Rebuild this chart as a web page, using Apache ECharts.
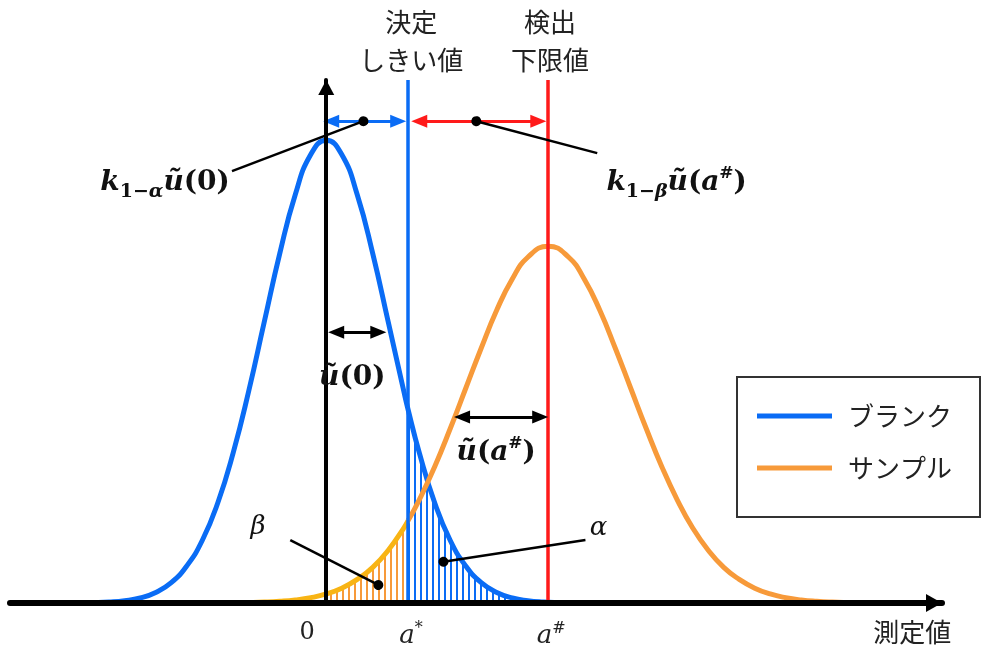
<!DOCTYPE html>
<html><head><meta charset="utf-8">
<script src="https://cdn.jsdelivr.net/npm/echarts@6/dist/echarts.min.js"></script>
<style>html,body{margin:0;padding:0;background:#fff}#c{width:981px;height:650px}</style>
</head><body><div id="c"></div>
<script>
// x: measured value (units of the blank's standard uncertainty), y: density relative to the blank peak
const blankX = [-4.5, -4, -3.75, -3.5, -3.25, -3, -2.75, -2.5, -2.25, -2, -1.75, -1.5, -1.25, -1, -0.75, -0.5, -0.25, 0,
                0.25, 0.5, 0.75, 1, 1.25, 1.32, 1.5, 1.75, 2, 2.25, 2.5, 2.75, 3, 3.25, 3.5, 3.75, 4, 4.5];
const blankY = [0.000, 0.0003, 0.0009, 0.0022, 0.0051, 0.011, 0.0228, 0.044, 0.080, 0.135, 0.216, 0.325, 0.458, 0.607, 0.755, 0.882, 0.969, 1.000,
                0.969, 0.882, 0.755, 0.607, 0.458, 0.418, 0.325, 0.216, 0.135, 0.080, 0.044, 0.0228, 0.011, 0.0051, 0.0022, 0.0009, 0.0003, 0.000];
const sampleX = [-1.5, -1.25, -1, -0.75, -0.5, -0.25, 0, 0.25, 0.5, 0.75, 1, 1.25, 1.32, 1.5, 1.75, 2, 2.25, 2.5, 2.75, 3, 3.25, 3.58,
                 3.91, 4.16, 4.41, 4.66, 4.91, 5.16, 5.41, 5.66, 5.91, 6.16, 6.41, 6.66, 6.91, 7.16, 7.41, 7.66, 7.91, 8.16, 8.41, 8.66];
const sampleY = [0.0005, 0.001, 0.0019, 0.0036, 0.0065, 0.0115, 0.0195, 0.032, 0.051, 0.077, 0.114, 0.162, 0.178, 0.223, 0.295, 0.377, 0.464, 0.551, 0.633, 0.700, 0.747, 0.771,
                 0.747, 0.700, 0.633, 0.551, 0.464, 0.377, 0.295, 0.223, 0.162, 0.114, 0.077, 0.051, 0.032, 0.0195, 0.0115, 0.0065, 0.0036, 0.0019, 0.001, 0.0005];
const decisionThreshold = 1.32;   // a*
const detectionLimit = 3.58;      // a#
const tickValues = [0, decisionThreshold, detectionLimit];
const tickLabels = ['{z|0}', '{i|a}{sup|*}', '{i|a}{sup|#}'];
const seriesNames = ['ブランク', 'サンプル'];

const BLUE = '#0A6CF5', ORANGE = '#F79A3A', GOLD = '#F8B414', RED = '#FF1A1A';
const chart = echarts.init(document.getElementById('c'), null, {renderer: 'canvas'});

function stripes(color, period, w) {
  const c = document.createElement('canvas');
  c.width = period; c.height = 8;
  const g = c.getContext('2d');
  g.fillStyle = color; g.fillRect(0, 0, w, 8);
  return c;
}
const EPS = 1e-9;
const pts = (xs, ys) => xs.map((x, i) => [x, ys[i]]);
const blank = pts(blankX, blankY);
const sample = pts(sampleX, sampleY);
const alphaArea = blank.filter(p => p[0] >= decisionThreshold - EPS);
const betaArea = sample.filter(p => p[0] >= 0 && p[0] <= decisionThreshold + EPS);
const sampleLow = sample.filter(p => p[0] <= decisionThreshold + EPS);
const sampleHigh = sample.filter(p => p[0] >= decisionThreshold - EPS);

const lineBase = {type: 'line', smooth: true, symbol: 'none', silent: true};
const solid = (color, width) => ({type: 'solid', color, width});
function arrow(x1, x2, y, color) {
  return [{coord: [x1, y], symbol: 'triangle', symbolSize: [13, 16], lineStyle: solid(color, 3)},
          {coord: [x2, y], symbol: 'triangle', symbolSize: [13, 16]}];
}
function leader(dot, end) {
  return [{coord: dot, symbol: 'circle', symbolSize: 10, lineStyle: solid('#000', 2.5)},
          {coord: end, symbol: 'none'}];
}

chart.setOption({
  animation: false,
  backgroundColor: '#fff',
  grid: {left: 10, right: 39, top: 80, bottom: 47},
  xAxis: {
    type: 'value', min: -5.1, max: 9.93, z: 10,
    axisLine: {onZero: true, symbol: ['none', 'triangle'], symbolSize: [18, 16], symbolOffset: [0, -8],
      lineStyle: {color: '#000', width: 6}},
    axisTick: {show: false}, splitLine: {show: false},
    axisLabel: {
      customValues: tickValues, margin: 18,
      formatter: v => tickLabels[tickValues.indexOf(v)] || '',
      rich: {
        z: {fontFamily: 'DejaVu Serif', fontSize: 24, color: '#222', padding: [0, 38, 0, 0]},
        i: {fontFamily: 'DejaVu Serif', fontStyle: 'italic', fontSize: 26, color: '#222', lineHeight: 30, padding: [0, 0, 0, 6]},
        sup: {fontFamily: 'DejaVu Serif', fontSize: 16, color: '#222', lineHeight: 30, verticalAlign: 'top'}
      }
    }
  },
  yAxis: {
    type: 'value', min: 0, max: 1.13, z: 10,
    axisLine: {show: true, onZero: true, symbol: ['none', 'triangle'], symbolSize: [16, 15], symbolOffset: [0, -7.5],
      lineStyle: {color: '#000', width: 4}},
    axisTick: {show: false}, axisLabel: {show: false}, splitLine: {show: false}
  },
  legend: {
    data: [{name: seriesNames[0], itemStyle: {color: BLUE}}, {name: seriesNames[1], itemStyle: {color: ORANGE}}],
    orient: 'vertical', left: 737, top: 377, icon: 'rect', itemWidth: 75, itemHeight: 5, itemGap: 26,
    padding: [26, 28, 36, 20], borderColor: '#333', borderWidth: 2, selectedMode: false,
    textStyle: {fontFamily: 'Noto Sans CJK JP', fontSize: 26, color: '#222', padding: [0, 0, 0, 11]}
  },
  series: [
    Object.assign({}, lineBase, {name: 'alpha', data: alphaArea, z: 1, lineStyle: {width: 0},
      areaStyle: {color: {image: stripes(BLUE, 6, 2), repeat: 'repeat'}, opacity: 1}}),
    Object.assign({}, lineBase, {name: 'beta', data: betaArea, z: 1, lineStyle: {width: 0},
      areaStyle: {color: {image: stripes(ORANGE, 6, 2), repeat: 'repeat'}, opacity: 1}}),
    Object.assign({}, lineBase, {name: seriesNames[0], data: blank, z: 3, lineStyle: {color: BLUE, width: 5}, itemStyle: {color: BLUE}}),
    Object.assign({}, lineBase, {name: seriesNames[1], data: sampleHigh, z: 3, lineStyle: {color: ORANGE, width: 5}, itemStyle: {color: ORANGE}}),
    Object.assign({}, lineBase, {name: 'sampleTail', data: sampleLow, z: 3, lineStyle: {color: GOLD, width: 5}, itemStyle: {color: GOLD}}),
    {type: 'line', name: 'anno', data: [], z: 5, silent: true,
      markLine: {
        silent: true, animation: false, label: {show: false}, symbol: 'none',
        data: [
          {xAxis: decisionThreshold, lineStyle: solid(BLUE, 3.5)},
          {xAxis: detectionLimit, lineStyle: solid(RED, 3.5)},
          arrow(0.08, 1.16, 1.041, BLUE),
          arrow(1.50, 3.42, 1.041, RED),
          arrow(0.16, 0.84, 0.585, '#000'),
          arrow(2.19, 3.45, 0.402, '#000'),
          leader([0.60, 1.041], [-1.52, 0.933]),
          leader([2.42, 1.041], [4.37, 0.972]),
          leader([0.84, 0.039], [-0.58, 0.136]),
          leader([1.89, 0.089], [4.18, 0.136])
        ]
      }}
  ]
});

// text annotations anchored in data coordinates
const MATH = 'DejaVu Serif';
const mathRich = {
  k: {fontFamily: MATH, fontWeight: 'bold', fontStyle: 'italic', fontSize: 28, lineHeight: 36, fill: '#111'},
  s: {fontFamily: MATH, fontWeight: 'bold', fontSize: 19, lineHeight: 19, verticalAlign: 'bottom', fill: '#111'},
  sg: {fontFamily: MATH, fontWeight: 'bold', fontStyle: 'italic', fontSize: 19, lineHeight: 19, verticalAlign: 'bottom', fill: '#111'},
  u: {fontFamily: MATH, fontWeight: 'bold', fontStyle: 'italic', fontSize: 28, lineHeight: 36, fill: '#111'},
  p: {fontFamily: MATH, fontWeight: 'bold', fontSize: 28, lineHeight: 36, fill: '#111'},
  a: {fontFamily: MATH, fontWeight: 'bold', fontStyle: 'italic', fontSize: 28, lineHeight: 36, fill: '#111'},
  sup: {fontFamily: MATH, fontWeight: 'bold', fontSize: 17, lineHeight: 17, verticalAlign: 'top', fill: '#111'},
  g: {fontFamily: MATH, fontStyle: 'italic', fontSize: 26, lineHeight: 32, fill: '#111'}
};
const annotations = [
  {at: [1.37, 1.214], text: '決定\nしきい値', cjk: true},
  {at: [3.61, 1.214], text: '検出\n下限値', cjk: true},
  {at: [9.45, -0.063], text: '測定値', cjk: true},
  {at: [-2.6, 0.907], text: '{k|k}{s|1−}{sg|α}{u|ũ}{p|(0)}'},
  {at: [5.65, 0.907], text: '{k|k}{s|1−}{sg|β}{u|ũ}{p|(}{a|a}{sup|#}{p|)}'},
  {at: [0.42, 0.486], text: '{u|ũ}{p|(0)}'},
  {at: [2.74, 0.324], text: '{u|ũ}{p|(}{a|a}{sup|#}{p|)}'},
  {at: [-1.10, 0.164], text: '{g|β}'},
  {at: [4.39, 0.162], text: '{g|α}'}
];
chart.setOption({
  graphic: annotations.map(t => {
    const p = chart.convertToPixel({gridIndex: 0}, t.at);
    const style = t.cjk
      ? {text: t.text, fontFamily: 'Noto Sans CJK JP', fontSize: 26, lineHeight: 38, fill: '#222', align: 'center', verticalAlign: 'middle'}
      : {text: t.text, rich: mathRich, align: 'center', verticalAlign: 'middle'};
    return {type: 'text', x: p[0], y: p[1], z: 20, silent: true, style};
  })
});
</script></body></html>
